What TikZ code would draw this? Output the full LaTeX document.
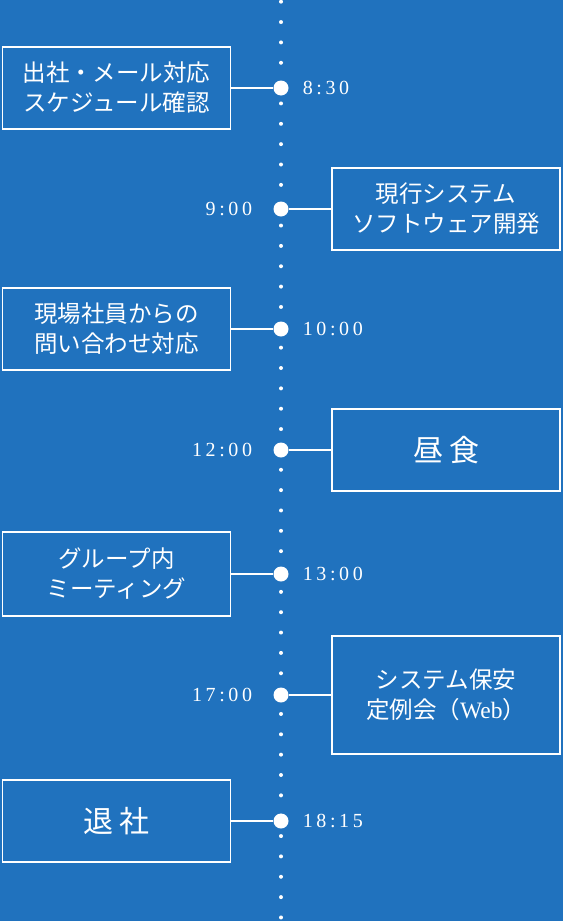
\documentclass[tikz,border=0pt]{standalone}
\usepackage{fontspec}
\setmainfont{Liberation Serif}
\newfontfamily\jpfont{Noto Sans CJK JP}
\newfontfamily\timefont[LetterSpace=18]{Liberation Serif}
\usetikzlibrary{positioning}
\definecolor{bgblue}{RGB}{32,114,190}

\begin{document}
\begin{tikzpicture}[x=1pt, y=-1pt,
		evbox/.style={draw=white, line width=1.8pt, text=white, minimum width=228pt, minimum height=82pt, inner sep=0pt, align=center, font=\jpfont\fontsize{23.5}{30}\selectfont},
		evdot/.style={circle, fill=white, inner sep=0pt, minimum size=15pt},
		evtime/.style={text=white, inner sep=0pt, font=\timefont\fontsize{20}{20}\selectfont},
		link/.style={white, line width=1.6pt}]
	\useasboundingbox (0,0) rectangle (563,921);
	\fill[bgblue] (0,0) rectangle (563,921);
	
	% dotted time axis
	\foreach \k in {0,...,45} {
		\fill[white] (281,1.7+20.35*\k) circle (2pt);
	}
	
	% points on the axis
	\node[evdot] (c1) at (281,88) {};
	\node[evdot] (c2) at (281,209) {};
	\node[evdot] (c3) at (281,329) {};
	\node[evdot] (c4) at (281,450) {};
	\node[evdot] (c5) at (281,574) {};
	\node[evdot] (c6) at (281,695) {};
	\node[evdot] (c7) at (281,821) {};
	
	% times
	\node[evtime, right=14pt of c1] (t1) {8:30};
	\node[evtime, left=21pt of c2] (t2) {9:00};
	\node[evtime, right=14pt of c3] (t3) {10:00};
	\node[evtime, left=21pt of c4] (t4) {12:00};
	\node[evtime, right=14pt of c5] (t5) {13:00};
	\node[evtime, left=21pt of c6] (t6) {17:00};
	\node[evtime, right=14pt of c7] (t7) {18:15};
	
	% events
	\node[evbox] (b1) at (116.5,88) {出社・メール対応\\スケジュール確認};
	\node[evbox] (b2) at (446,209) {現行システム\\ソフトウェア開発};
	\node[evbox] (b3) at (116.5,329) {現場社員からの\\問い合わせ対応};
	\node[evbox, font=\jpfont\fontsize{30}{30}\selectfont] (b4) at (446,450) {昼\hspace{6pt}食};
	\node[evbox, minimum height=84pt] (b5) at (116.5,574) {グループ内\\ミーティング};
	\node[evbox, minimum height=118pt] (b6) at (446,695) {システム保安\\定例会（{\rmfamily Web}）};
	\node[evbox, font=\jpfont\fontsize{30}{30}\selectfont] (b7) at (116.5,821) {退\hspace{6pt}社};
	
	\foreach \i in {1,...,7} {
		\draw[link] (b\i) -- (c\i);
	}
\end{tikzpicture}
\end{document}
